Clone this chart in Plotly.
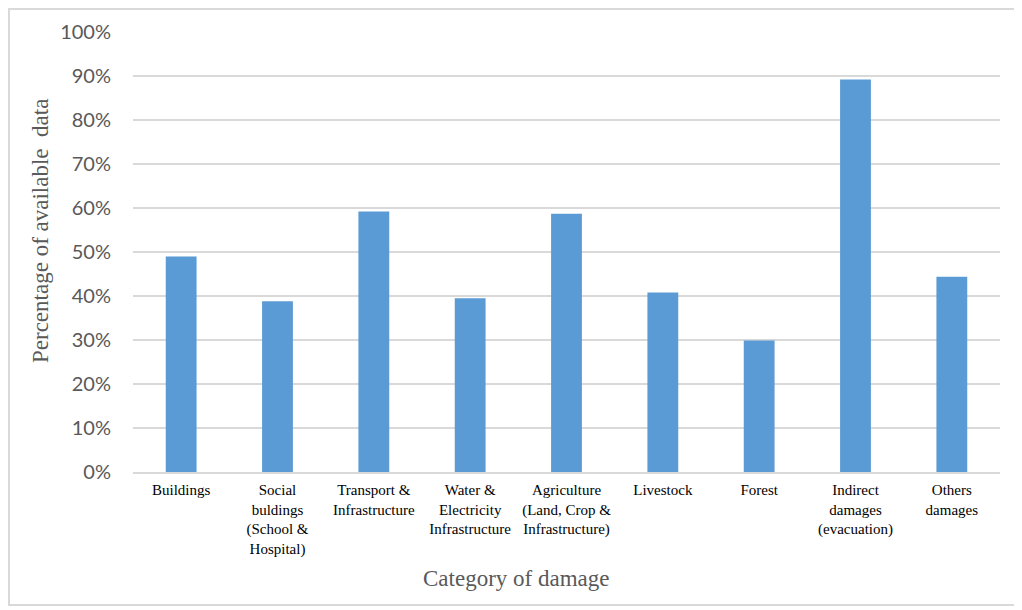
import plotly.graph_objects as go

categories = [
    "Buildings",
    "Social<br>buldings<br>(School &amp;<br>Hospital)",
    "Transport &amp;<br>Infrastructure",
    "Water &amp;<br>Electricity<br>Infrastructure",
    "Agriculture<br>(Land, Crop &amp;<br>Infrastructure)",
    "Livestock",
    "Forest",
    "Indirect<br>damages<br>(evacuation)",
    "Others<br>damages",
]
values = [0.49, 0.388, 0.592, 0.395, 0.587, 0.408, 0.299, 0.892, 0.444]
y_ticks = [i / 10 for i in range(11)]
y_tick_labels = [f"{i * 10}%" for i in range(11)]
x_title = "Category of damage"
y_title = "Percentage of available  data"

SERIF = "Liberation Serif"

W, H = 1022, 610
# page has an 8px body offset; positions below are in figure coordinates
ml, mr, mt, mb = 125, 30, 24, 146
pw, ph = W - ml - mr, H - mt - mb

fig = go.Figure(go.Bar(
    x=categories, y=values,
    marker=dict(color="#5b9bd5", line=dict(width=0)),
    width=0.32,
))

fig.update_layout(
    width=W, height=H,
    margin=dict(l=ml, r=mr, t=mt, b=mb),
    paper_bgcolor="white", plot_bgcolor="white",
    showlegend=False,
    xaxis=dict(
        showline=True, linecolor="#d9d9d9", linewidth=2,
        tickfont=dict(family=SERIF, size=15, color="#000000"),
        tickangle=0, ticks="",
        ticklabelstandoff=3,
    ),
    yaxis=dict(
        range=[0, 1.0], tickvals=y_ticks, ticktext=y_tick_labels,
        showgrid=True, gridcolor="#d9d9d9", gridwidth=2, zeroline=False,
        tickfont=dict(family="Lato", size=20, color="#595959"),
        ticklabelstandoff=21,
    ),
    annotations=[
        dict(text=x_title, xref="paper", yref="paper",
             x=(516 - 8 - ml) / pw, y=1 - (578 - 8 - mt) / ph,
             xanchor="center", yanchor="middle", showarrow=False,
             font=dict(family=SERIF, size=23, color="#595959")),
        dict(text=y_title, xref="paper", yref="paper", textangle=-90,
             x=(40 - 8 - ml) / pw, y=1 - (231 - 8 - mt) / ph,
             xanchor="center", yanchor="middle", showarrow=False,
             font=dict(family=SERIF, size=23, color="#595959")),
    ],
    shapes=[dict(
        type="rect", xref="paper", yref="paper",
        x0=(1 - ml) / pw, x1=(1007 - ml) / pw,
        y0=1 - (597 - mt) / ph, y1=1 - (1 - mt) / ph,
        line=dict(color="#d9d9d9", width=2), fillcolor="rgba(0,0,0,0)",
        layer="below",
    )],
)

fig.write_html("out.html")
